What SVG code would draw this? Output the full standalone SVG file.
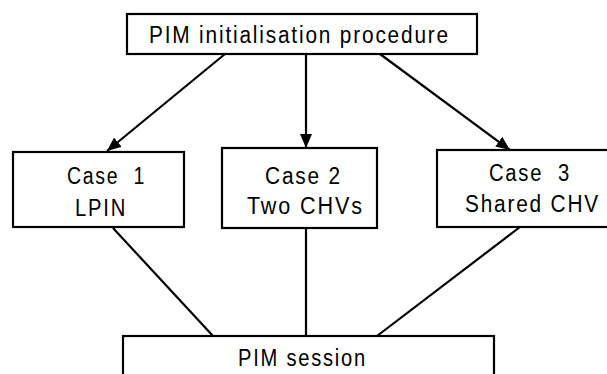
<svg xmlns="http://www.w3.org/2000/svg" width="607" height="374" viewBox="0 0 607 374">
<style>
.box{fill:#fff;stroke:#000;stroke-width:2.2}
.t{font-family:"Liberation Sans",Arial,sans-serif;font-size:23px;letter-spacing:2px;fill:#000}
.c{stroke:#000;stroke-width:2.2;fill:none}
</style>
<defs>
<marker id="ah" markerUnits="userSpaceOnUse" markerWidth="14" markerHeight="12" viewBox="0 0 14 12" refX="14" refY="6" orient="auto">
<path d="M0,0 L14,6 L0,12 Z" fill="#000"/>
</marker>
</defs>
<rect width="607" height="374" fill="#fff"/>
<g id="connectors">
<line class="c" x1="225" y1="54" x2="107" y2="151" marker-end="url(#ah)"/>
<line class="c" x1="306" y1="54" x2="306" y2="148" marker-end="url(#ah)"/>
<line class="c" x1="380" y1="54" x2="510" y2="150" marker-end="url(#ah)"/>
<line class="c" x1="113" y1="228" x2="213" y2="336"/>
<line class="c" x1="306" y1="228" x2="306" y2="336"/>
<line class="c" x1="520" y1="227" x2="377" y2="336"/>
</g>
<g id="init">
<rect class="box" x="127" y="14" width="350" height="40"/>
<text class="t" x="149" y="43" textLength="301" lengthAdjust="spacingAndGlyphs">PIM initialisation procedure</text>
</g>
<g id="case1">
<rect class="box" x="13" y="152" width="171" height="75"/>
<text class="t" x="67" y="184" textLength="79" lengthAdjust="spacingAndGlyphs" xml:space="preserve">Case  1</text>
<text class="t" x="75" y="216" textLength="52" lengthAdjust="spacingAndGlyphs">LPIN</text>
</g>
<g id="case2">
<rect class="box" x="222" y="148" width="155" height="80"/>
<text class="t" x="265" y="184" textLength="77" lengthAdjust="spacingAndGlyphs">Case 2</text>
<text class="t" x="247" y="214" textLength="117" lengthAdjust="spacingAndGlyphs">Two CHVs</text>
</g>
<g id="case3">
<rect class="box" x="437" y="150" width="180" height="77"/>
<text class="t" x="489" y="181" textLength="82" lengthAdjust="spacingAndGlyphs" xml:space="preserve">Case  3</text>
<text class="t" x="465" y="212" textLength="135" lengthAdjust="spacingAndGlyphs">Shared CHV</text>
</g>
<g id="session">
<rect class="box" x="123" y="336" width="371" height="50"/>
<text class="t" x="238" y="366" textLength="129" lengthAdjust="spacingAndGlyphs">PIM session</text>
</g>
</svg>
